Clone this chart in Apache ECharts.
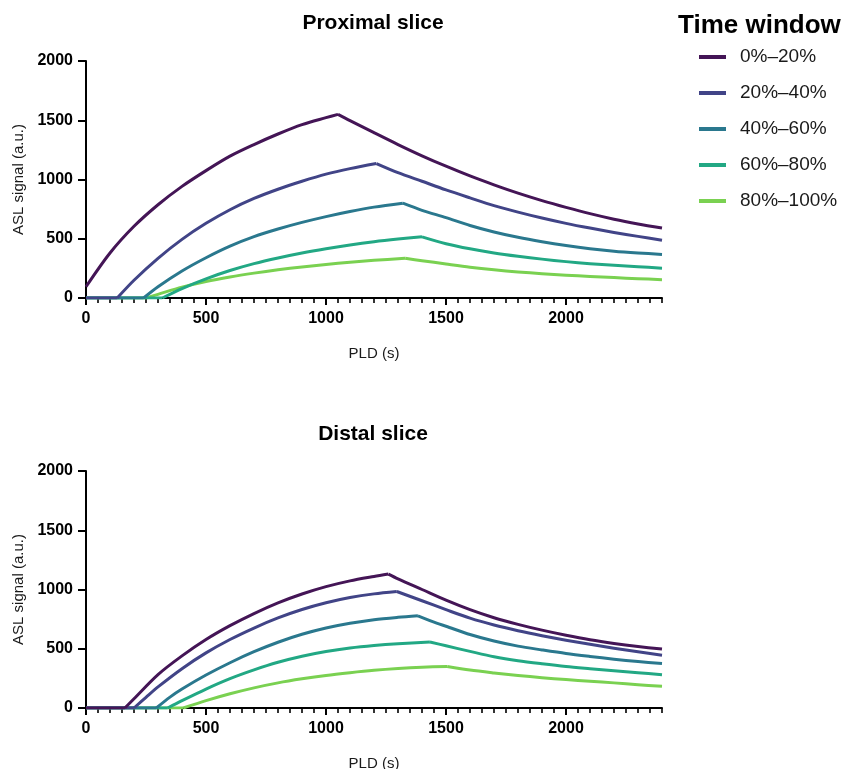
<!DOCTYPE html>
<html><head><meta charset="utf-8">
<script src="https://cdn.jsdelivr.net/npm/echarts@6/dist/echarts.min.js"></script>
<style>html,body{margin:0;padding:0;background:#fff}#c{width:845px;height:769px}</style>
</head><body><div id="c"></div>
<script>
// ---- data (PLD in s, ASL signal in a.u.) ----
const seriesNames = ['0%–20%', '20%–40%', '40%–60%', '60%–80%', '80%–100%'];
const seriesColors = ['#441556', '#414487', '#2a788e', '#22a884', '#7ad151'];
const panelTitles = ['Proximal slice', 'Distal slice'];
const xTickLabels = [0, 500, 1000, 1500, 2000];
const yTickLabels = [0, 500, 1000, 1500, 2000];

const prox_0_20 = [[0,95],[100,380],[200,605],[300,787],[400,942],[500,1075],[600,1197],[700,1295],[800,1384],[900,1463],[1000,1522],[1050,1550],[1100,1497],[1200,1395],[1300,1295],[1400,1200],[1500,1112],[1600,1030],[1700,955],[1800,885],[1900,822],[2000,765],[2100,712],[2200,665],[2300,625],[2400,590]];
const prox_20_40 = [[0,0],[130,0],[200,150],[300,335],[400,495],[500,630],[600,745],[700,840],[800,918],[900,985],[1000,1045],[1100,1092],[1210,1135],[1300,1058],[1400,985],[1500,912],[1600,845],[1700,780],[1800,725],[1900,675],[2000,630],[2100,590],[2200,553],[2300,520],[2400,487]];
const prox_40_60 = [[0,0],[240,0],[300,95],[400,228],[500,340],[600,438],[700,518],[800,582],[900,638],[1000,687],[1100,730],[1200,767],[1320,800],[1400,740],[1500,678],[1600,612],[1700,557],[1800,512],[1900,475],[2000,443],[2100,416],[2200,395],[2300,380],[2400,368]];
const prox_60_80 = [[0,0],[318,0],[400,80],[500,162],[600,232],[700,290],[800,338],[900,380],[1000,416],[1100,448],[1200,475],[1300,497],[1400,516],[1500,458],[1600,415],[1700,380],[1800,352],[1900,328],[2000,307],[2100,290],[2200,276],[2300,264],[2400,252]];
const prox_80_100 = [[0,0],[250,0],[300,31],[400,92],[500,140],[600,178],[700,210],[800,238],[900,262],[1000,283],[1100,302],[1200,318],[1330,335],[1400,315],[1500,287],[1600,260],[1700,238],[1800,220],[1900,205],[2000,193],[2100,182],[2200,172],[2300,163],[2400,155]];

const dist_0_20 = [[0,0],[162,0],[200,78],[300,282],[400,440],[500,578],[600,695],[700,797],[800,887],[900,962],[1000,1024],[1100,1073],[1200,1110],[1260,1130],[1300,1090],[1400,1000],[1500,910],[1600,830],[1700,762],[1800,706],[1900,657],[2000,614],[2100,576],[2200,545],[2300,519],[2400,497]];
const dist_20_40 = [[0,0],[200,0],[250,90],[300,178],[400,332],[500,465],[600,578],[700,675],[800,760],[900,831],[1000,888],[1100,932],[1200,963],[1295,983],[1400,905],[1500,830],[1600,758],[1700,700],[1800,652],[1900,610],[2000,572],[2100,538],[2200,505],[2300,475],[2400,445]];
const dist_40_60 = [[0,0],[293,0],[350,92],[400,160],[500,278],[600,382],[700,475],[800,555],[900,622],[1000,675],[1100,715],[1200,745],[1300,765],[1383,778],[1461,716],[1500,690],[1600,620],[1700,565],[1800,522],[1900,490],[2000,460],[2100,435],[2200,412],[2300,392],[2400,376]];
const dist_60_80 = [[0,0],[340,0],[400,62],[500,160],[600,248],[700,322],[800,386],[900,437],[1000,477],[1100,507],[1200,528],[1300,543],[1433,557],[1500,525],[1600,478],[1700,433],[1800,399],[1900,373],[2000,350],[2100,332],[2200,315],[2300,298],[2400,281]];
const dist_80_100 = [[0,0],[405,0],[500,62],[600,120],[700,170],[800,212],[900,246],[1000,275],[1100,298],[1200,318],[1300,333],[1400,344],[1505,351],[1600,320],[1700,296],[1800,275],[1900,256],[2000,240],[2100,226],[2200,212],[2300,197],[2400,183]];

const panels = [
  [prox_0_20, prox_20_40, prox_40_60, prox_60_80, prox_80_100],
  [dist_0_20, dist_20_40, dist_40_60, dist_60_80, dist_80_100]
];

// ---- chart ----
const FONT = '"Liberation Sans", Arial, Helvetica, sans-serif';
const gridTops = [61, 471];
const chart = echarts.init(document.getElementById('c'), null, {renderer: 'canvas'});

const grid = gridTops.map(t => ({left: 86, top: t, width: 576, height: 237, containLabel: false, outerBoundsMode: 'none'}));
const xAxis = [];
const yAxis = [];
const plain = v => String(v);
gridTops.forEach((t, g) => {
  xAxis.push({
    type: 'value', gridIndex: g, min: 0, max: 2400, interval: 500, position: 'bottom',
    axisLine: {show: true, onZero: false, lineStyle: {color: '#000', width: 2}},
    axisTick: {show: true, length: 7, customValues: xTickLabels, lineStyle: {color: '#000', width: 2}},
    axisLabel: {customValues: xTickLabels, formatter: plain, color: '#000', fontWeight: 'bold', fontSize: 16, fontFamily: FONT, margin: 13},
    splitLine: {show: false},
    name: 'PLD (s)', nameLocation: 'middle', nameGap: 48,
    nameTextStyle: {fontSize: 15, color: '#1a1a1a', fontFamily: FONT}
  });
  xAxis.push({
    type: 'value', gridIndex: g, min: 0, max: 2400, interval: 50, position: 'bottom',
    axisLine: {show: false, onZero: false},
    axisTick: {show: true, length: 5, lineStyle: {color: '#000', width: 1.6}},
    axisLabel: {show: false},
    splitLine: {show: false}
  });
  yAxis.push({
    type: 'value', gridIndex: g, min: 0, max: 2000, interval: 500,
    axisLine: {show: true, onZero: false, lineStyle: {color: '#000', width: 2}},
    axisTick: {show: true, length: 8, lineStyle: {color: '#000', width: 2}},
    axisLabel: {customValues: yTickLabels, formatter: plain, color: '#000', fontWeight: 'bold', fontSize: 16, fontFamily: FONT, margin: 13},
    splitLine: {show: false},
    name: 'ASL signal (a.u.)', nameLocation: 'middle', nameGap: 46,
    nameTextStyle: {fontSize: 15, color: '#1a1a1a', fontFamily: FONT}
  });
});

// each curve is drawn as three pieces (baseline, rise, decay) so the onset and
// the peak stay sharp while the rise and decay are smooth
const series = [];
panels.forEach((arrs, g) => {
  arrs.forEach((d, i) => {
    let onset = 0;
    while (onset + 1 < d.length && d[onset + 1][1] === 0) onset++;
    let peak = 0;
    d.forEach((p, k) => { if (p[1] > d[peak][1]) peak = k; });
    const pieces = [
      {data: d.slice(0, onset + 1), smooth: false},
      {data: d.slice(onset, peak + 1), smooth: 0.3},
      {data: d.slice(peak), smooth: 0.3}
    ];
    pieces.forEach(pc => {
      if (pc.data.length < 2) return;
      series.push({
        type: 'line', name: seriesNames[i], data: pc.data, smooth: pc.smooth,
        xAxisIndex: g * 2, yAxisIndex: g,
        showSymbol: false, symbol: 'none', z: 10 - i,
        lineStyle: {color: seriesColors[i], width: 3, join: 'miter', cap: 'butt'},
        itemStyle: {color: seriesColors[i]},
        emphasis: {disabled: true}
      });
    });
  });
});

chart.setOption({
  animation: false,
  backgroundColor: '#fff',
  grid, xAxis, yAxis, series,
  legend: {
    data: seriesNames, orient: 'vertical', left: 699, top: 46, padding: 0,
    icon: 'rect', itemWidth: 27, itemHeight: 4, itemGap: 14,
    textStyle: {fontSize: 19, lineHeight: 22, color: '#1a1a1a', fontFamily: FONT, padding: [0, 0, 0, 9]},
    selectedMode: false
  },
  graphic: [
    {type: 'text', x: 373, y: 23, style: {text: panelTitles[0], textAlign: 'center', textVerticalAlign: 'middle', font: 'bold 21px ' + FONT, fill: '#000'}},
    {type: 'text', x: 373, y: 434, style: {text: panelTitles[1], textAlign: 'center', textVerticalAlign: 'middle', font: 'bold 21px ' + FONT, fill: '#000'}},
    {type: 'text', x: 678, y: 26, style: {text: 'Time window', textAlign: 'left', textVerticalAlign: 'middle', font: 'bold 26px ' + FONT, fill: '#000'}}
  ]
});
</script>
</body></html>
